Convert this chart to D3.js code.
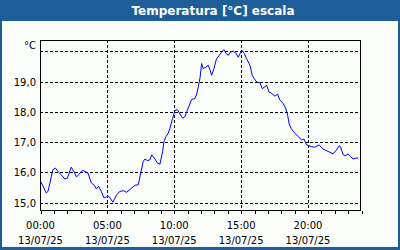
<!DOCTYPE html>
<html><head><meta charset="utf-8">
<script src="https://cdn.jsdelivr.net/npm/d3@7"></script>
<style>
html,body{margin:0;padding:0;background:#fff;}
svg{display:block;}
text{font-family:"DejaVu Sans",Verdana,sans-serif;}
</style></head>
<body>
<svg id="c" width="400" height="250"></svg>
<script>
// ---- data ----
const title = "Temperatura [°C] escala";
const unitLabel = "°C";
const times = ["00:03","00:28","00:36","00:58","01:09","01:21","01:35","01:51","02:03","02:20","02:32","02:43","02:54","03:05","03:13","03:35","03:50","04:05","04:13","04:23","04:35","04:47","04:57","05:08","05:17","05:27","05:44","05:59","06:14","06:29","06:51","07:06","07:21","07:32","07:43","07:51","08:01","08:13","08:21","08:36","08:46","08:58","09:10","09:16","09:25","09:35","09:43","09:55","10:05","10:16","10:28","10:40","10:50","10:58","11:10","11:20","11:35","11:43","11:50","11:58","12:05","12:12","12:24","12:35","12:42","12:50","13:00","13:12","13:24","13:35","13:45","13:54","14:04","14:15","14:27","14:39","14:49","14:57","15:01","15:07","15:16","15:27","15:42","15:52","16:01","16:12","16:27","16:37","16:49","16:57","17:07","17:19","17:34","17:46","17:56","18:11","18:22","18:31","18:37","18:46","19:01","19:19","19:34","19:44","19:56","20:18","20:33","20:52","21:10","21:33","21:55","22:10","22:22","22:28","22:40","22:52","23:02","23:13","23:25","23:37","23:47"];
const temps = [15.70,15.32,15.37,16.09,16.14,16.03,15.92,15.78,15.81,16.17,16.03,15.85,15.92,16.03,16.06,15.98,15.65,15.56,15.45,15.54,15.37,15.15,15.19,15.21,15.12,15.01,15.26,15.37,15.39,15.34,15.48,15.57,15.59,15.98,16.36,16.44,16.39,16.41,16.58,16.44,16.31,16.27,16.69,17.02,17.18,17.29,17.46,17.78,18.04,18.08,17.93,17.79,17.84,18.00,18.22,18.41,18.44,18.59,18.83,19.13,19.60,19.43,19.48,19.54,19.40,19.21,19.43,19.76,19.87,19.98,20.06,19.94,19.87,19.98,20.01,19.94,19.81,19.92,19.98,20.03,19.94,19.76,19.54,19.21,19.10,18.99,18.96,18.77,18.83,18.88,18.66,18.61,18.52,18.59,18.39,18.28,18.12,17.89,17.62,17.46,17.31,17.18,17.07,17.10,16.91,16.85,16.83,16.91,16.77,16.69,16.61,16.74,16.88,16.85,16.58,16.55,16.61,16.52,16.44,16.47,16.47];
const yTicks = [15,16,17,18,19];
const yGrid = [15,16,17,18,19,20];
const xMajor = [0,5,10,15,20];
const xLabels = ["00:00","05:00","10:00","15:00","20:00"];
const dateLabel = "13/07/25";
const xMinor = d3.range(0,25,1);

// ---- layout ----
const W=400,H=250;
const L=40,R=360,T=40,B=210;
const svg=d3.select("#c");
const frame="#1d5e98";

svg.append("rect").attr("x",0).attr("y",0).attr("width",W).attr("height",H).attr("fill",frame);
svg.append("rect").attr("x",2).attr("y",21).attr("width",W-4).attr("height",H-21-3).attr("fill","#fbfdfb");
svg.append("text").attr("x",213).attr("y",15).attr("text-anchor","middle")
  .attr("font-size",12).attr("font-weight","bold").attr("fill","#fff").text(title);

const x=d3.scaleLinear().domain([0,24]).range([L,R+1]);
const y=d3.scaleLinear().domain([15-8/30.4,20+11/30.4]).range([B+0.5,T+0.5]);

const parseH=s=>{const [h,m]=s.split(":").map(Number);return h+m/60;};
const data=times.map((t,i)=>({h:parseH(t),v:temps[i]}));

const g=svg.append("g");
// grid
g.selectAll(".hg").data(yGrid).enter().append("line")
  .attr("x1",L).attr("x2",R).attr("y1",d=>Math.round(y(d))+0.5).attr("y2",d=>Math.round(y(d))+0.5)
  .attr("stroke","#000").attr("stroke-dasharray","3,2").attr("shape-rendering","crispEdges");
g.selectAll(".vg").data(xMajor.filter(d=>d>0)).enter().append("line")
  .attr("y1",T).attr("y2",B).attr("x1",d=>Math.round(x(d))+0.5).attr("x2",d=>Math.round(x(d))+0.5)
  .attr("stroke","#000").attr("stroke-dasharray","3,2").attr("shape-rendering","crispEdges");

// frame
g.append("path").attr("d",`M${L+0.5},${B+0.5}V${T+0.5}H${R+0.5}V${B+0.5}`)
  .attr("fill","none").attr("stroke","#000").attr("shape-rendering","crispEdges");

// bottom axis
const ax=d3.axisBottom(x).tickValues(xMinor).tickSize(3).tickFormat("");
const axg=svg.append("g").attr("transform",`translate(0,${B+0.5})`).call(ax);
axg.select(".domain").attr("d",`M${L},0H${R+1}`).attr("stroke","#000").attr("shape-rendering","crispEdges");
axg.selectAll(".tick line").attr("stroke","#000").attr("shape-rendering","crispEdges")
  .attr("transform","translate(0.5,0)");

// x labels
svg.selectAll(".xl").data(xMajor).enter().append("text")
  .attr("x",d=>x(d)+0.5).attr("y",229).attr("text-anchor","middle").attr("font-size",10).attr("fill","#000")
  .text((d,i)=>xLabels[i]);
svg.selectAll(".xd").data(xMajor).enter().append("text")
  .attr("x",d=>x(d)+0.5).attr("y",244).attr("text-anchor","middle").attr("font-size",10).attr("fill","#000")
  .text(dateLabel);

// y labels
svg.selectAll(".yl").data(yTicks).enter().append("text")
  .attr("x",36).attr("y",d=>y(d)+4).attr("text-anchor","end").attr("font-size",10).attr("fill","#000")
  .text(d=>d3.format(".1f")(d).replace(".",","));
svg.append("text").attr("x",36).attr("y",49).attr("text-anchor","end").attr("font-size",10).attr("fill","#000").text(unitLabel);

// line
const line=d3.line().x(d=>x(d.h)).y(d=>y(d.v));
svg.append("path").datum(data).attr("d",line).attr("fill","none").attr("stroke","#0000ff").attr("stroke-width",1);
</script>
</body></html>
